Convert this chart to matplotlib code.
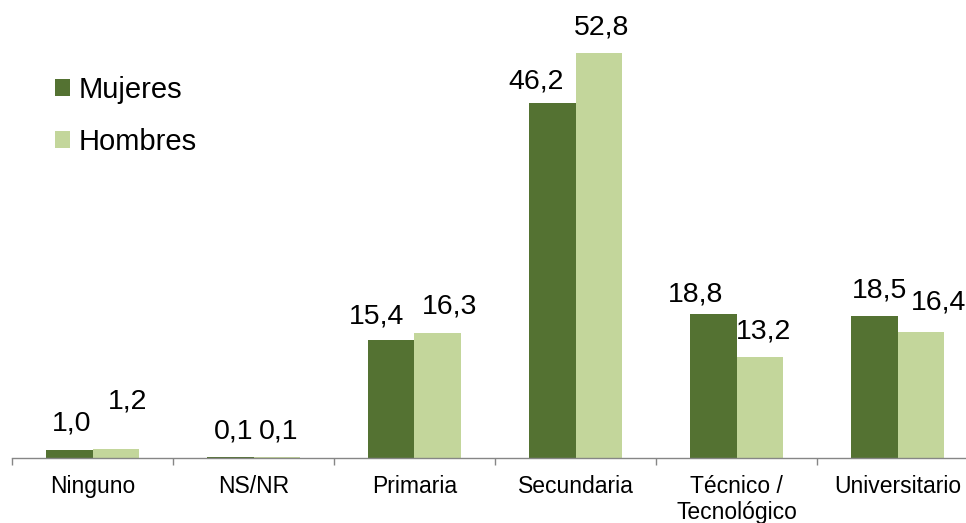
import matplotlib
matplotlib.use("Agg")
import matplotlib.pyplot as plt
import numpy as np

plt.rcParams["font.family"] = ["Liberation Sans", "DejaVu Sans"]

categories = ["Ninguno", "NS/NR", "Primaria", "Secundaria", "Técnico /\nTecnológico", "Universitario"]
mujeres = [1.0, 0.1, 15.4, 46.2, 18.8, 18.5]
hombres = [1.2, 0.1, 16.3, 52.8, 13.2, 16.4]
series_names = ["Mujeres", "Hombres"]

# label nudges (pixels): horizontal shift from bar centre, baseline height above bar top
mujeres_offsets = [(2, 20), (3, 19), (-15, 16), (-16, 15), (-18, 12), (5, 19)]
hombres_offsets = [(12, 40), (2, 19), (12, 19), (3, 18), (4, 18), (18, 23)]

dark = "#547232"
light = "#C3D69B"
axis_gray = "#868686"

W, H = 966, 523
fig = plt.figure(figsize=(W / 100, H / 100), dpi=100)
# plot area: 161 px per category, baseline at y=458 px
ax = fig.add_axes([12 / W, (H - 458) / H, 966 / W, 458 / H])

x = np.arange(len(categories))
bw = 0.286
b1 = ax.bar(x - bw / 2, mujeres, bw, color=dark, label=series_names[0], zorder=2)
b2 = ax.bar(x + bw / 2, hombres, bw, color=light, label=series_names[1], zorder=2)

def fmt(v):
    return f"{v:.1f}".replace(".", ",")

for bars, vals, offs in ((b1, mujeres, mujeres_offsets), (b2, hombres, hombres_offsets)):
    for rect, v, (dx, dy) in zip(bars, vals, offs):
        ax.annotate(fmt(v), (rect.get_x() + rect.get_width() / 2, v),
                    xytext=(dx, dy), textcoords="offset pixels",
                    ha="center", va="baseline", fontsize=20.5, color="black")

ax.set_xlim(-0.5, len(categories) - 0.5)
ax.set_ylim(0, 59.67)

for s in ("top", "right", "left"):
    ax.spines[s].set_visible(False)
ax.spines["bottom"].set_color(axis_gray)
ax.spines["bottom"].set_linewidth(1.0)

ax.set_yticks([])
ax.set_xticks(np.arange(-0.5, len(categories), 1.0))
ax.set_xticklabels([])
ax.tick_params(axis="x", which="major", direction="out", length=5, width=1.0, color=axis_gray)
ax.set_xticks(x, minor=True)
ax.set_xticklabels(categories, minor=True, fontsize=16.5, linespacing=1.2)
ax.tick_params(axis="x", which="minor", length=0, pad=12)

leg = fig.legend(handles=[b1, b2], labels=series_names, loc="upper left",
                 bbox_to_anchor=(55 / W, 1 - 76 / H), frameon=False,
                 fontsize=21, handlelength=0.53, handleheight=0.53,
                 handletextpad=0.28, labelspacing=0.82, borderpad=0,
                 borderaxespad=0)

fig.savefig("out.png", dpi=100)
